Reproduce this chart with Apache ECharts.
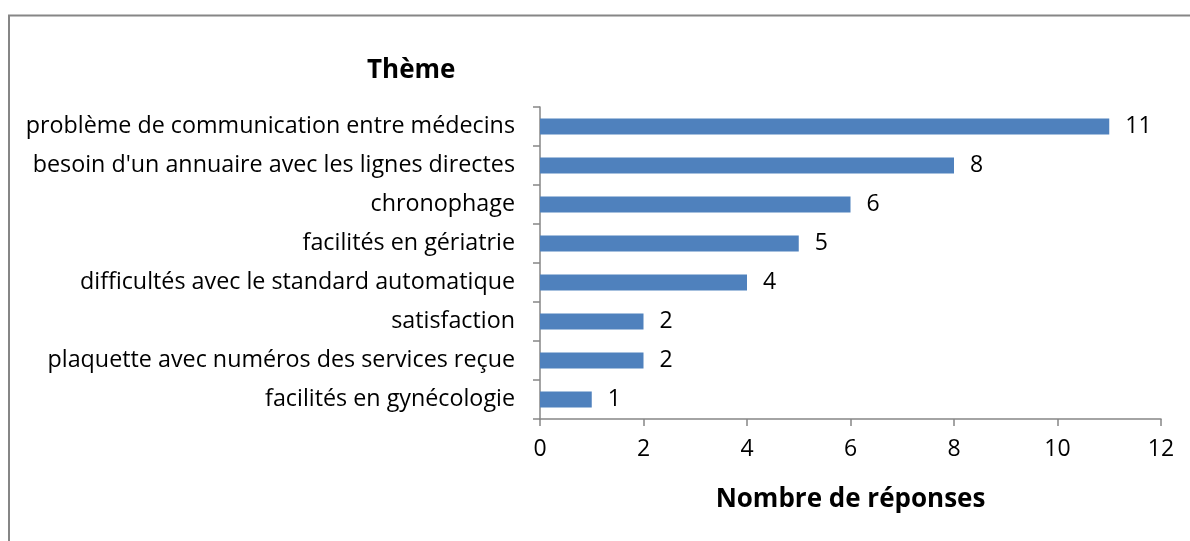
<!DOCTYPE html>
<html>
<head>
<meta charset="utf-8">
<script src="https://cdn.jsdelivr.net/npm/echarts@6/dist/echarts.min.js"></script>
<style>
  html, body { margin: 0; padding: 0; background: #fff; }
  #chart { width: 1190px; height: 541px; }
</style>
</head>
<body>
<div id="chart"></div>
<script>
  // thèmes, du bas vers le haut
  const themes = [
    'facilités en gynécologie',
    'plaquette avec numéros des services reçue',
    'satisfaction',
    'difficultés avec le standard automatique',
    'facilités en gériatrie',
    'chronophage',
    "besoin d'un annuaire avec les lignes directes",
    'problème de communication entre médecins'
  ]
  const reponses = [1, 2, 2, 4, 5, 6, 8, 11]

  const font = 'Open Sans'
  const chart = echarts.init(document.getElementById('chart'))
  chart.setOption({
    animation: false,
    grid: { left: 540, right: 29, top: 107, bottom: 122 },
    graphic: [
      {
        type: 'rect',
        shape: { x: 9, y: 15.5, width: 1300, height: 700 },
        style: { fill: 'none', stroke: '#868686', lineWidth: 2 }
      },
      {
        type: 'text',
        left: 367, top: 58,
        style: { text: 'Thème', font: 'bold 26px "' + font + '"', fill: '#000' }
      }
    ],
    xAxis: {
      type: 'value',
      min: 0, max: 12, interval: 2,
      name: 'Nombre de réponses',
      nameLocation: 'middle',
      nameGap: 68,
      nameTextStyle: { fontFamily: font, fontWeight: 'bold', fontSize: 26, color: '#000' },
      axisLine: { show: true, lineStyle: { color: '#868686', width: 1.5 } },
      axisTick: { show: true, length: 7, lineStyle: { color: '#868686', width: 1.5 } },
      axisLabel: { fontFamily: font, fontSize: 23, color: '#000', margin: 19 },
      splitLine: { show: false }
    },
    yAxis: {
      type: 'category',
      data: themes,
      axisLine: { show: true, lineStyle: { color: '#868686', width: 1.5 } },
      axisTick: { show: true, length: 7, lineStyle: { color: '#868686', width: 1.5 } },
      axisLabel: { fontFamily: font, fontSize: 23.3, color: '#000', margin: 25 },
      splitLine: { show: false }
    },
    series: [
      {
        type: 'bar',
        data: reponses,
        barWidth: 16,
        itemStyle: { color: '#4f81bd' },
        label: {
          show: true,
          position: 'right',
          distance: 16,
          fontFamily: font,
          fontSize: 23,
          color: '#000'
        }
      }
    ]
  })
</script>
</body>
</html>
